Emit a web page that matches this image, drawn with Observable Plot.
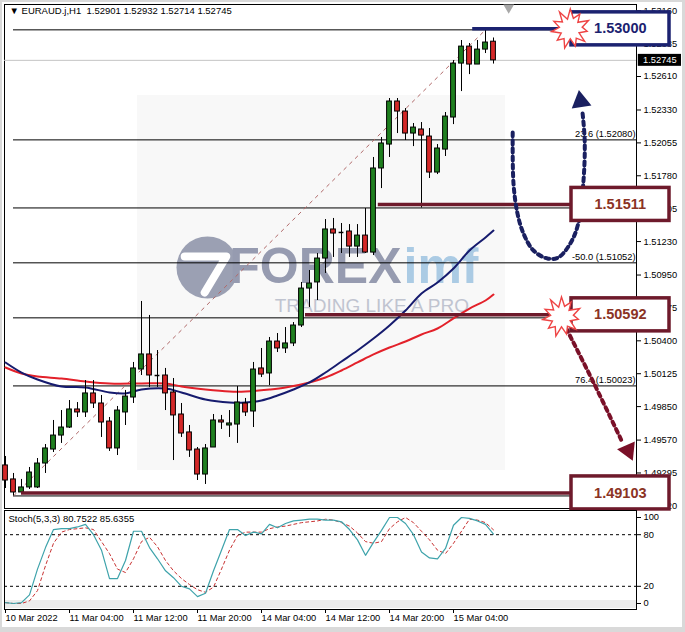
<!DOCTYPE html>
<html><head><meta charset="utf-8">
<script src="https://cdn.jsdelivr.net/npm/d3@7"></script>
<script src="https://cdn.jsdelivr.net/npm/@observablehq/plot@0.6"></script>
<style>
body{margin:0;background:#d9d9d9;}
#wrap{position:relative;width:685px;height:632px;overflow:hidden;background:#d9d9d9;}
#bg{position:absolute;left:2px;top:2px;width:680px;height:625px;background:#fff;}
#main{position:absolute;left:0;top:0;}
#stoch{position:absolute;left:0;top:509px;}
</style></head><body>
<div id="wrap"><div id="bg"></div><div id="main"></div><div id="stoch"></div></div>
<script>
// ---- Data (EURAUD H1, bars 0..61, 10 Mar 20:00 -> 15 Mar 09:00) ----
const symbolName = "EURAUD.j,H1";
const opens = [1.49358,1.49241,1.49132,1.49174,1.49174,1.49374,1.49491,1.49608,1.49675,1.49826,
1.49801,1.49960,1.49876,1.49725,1.49500,1.49801,1.49926,1.50160,1.50286,1.50110,
1.50110,1.49968,1.49784,1.49634,1.49491,1.49282,1.49508,1.49734,1.49692,1.49700,
1.49876,1.49809,1.50169,1.50127,1.50394,1.50336,1.50378,1.50528,1.50837,1.50888,
1.51088,1.51331,1.51306,1.51314,1.51188,1.51280,1.51138,1.51841,1.52041,1.52401,
1.52317,1.52133,1.52167,1.52108,1.51807,1.51999,1.52267,1.52718,1.52860,1.52710,
1.52835,1.52901];
const highs = [1.49433,1.49291,1.49241,1.49341,1.49416,1.49533,1.49734,1.49817,1.49901,1.49884,
1.50068,1.50068,1.49943,1.49759,1.49851,1.49985,1.50219,1.50729,1.50612,1.50319,
1.50169,1.50085,1.49876,1.49692,1.49508,1.49533,1.49784,1.49776,1.49817,1.50018,
1.49918,1.50219,1.50336,1.50428,1.50461,1.50511,1.50553,1.50888,1.50988,1.51130,
1.51414,1.51423,1.51381,1.51372,1.51372,1.51506,1.51933,1.52100,1.52426,1.52426,
1.52342,1.52217,1.52225,1.52175,1.52041,1.52309,1.52743,1.52911,1.52886,1.52911,
1.53000,1.52932];
const lows = [1.49165,1.49103,1.49115,1.49157,1.49165,1.49291,1.49466,1.49542,1.49667,1.49759,
1.49759,1.49834,1.49592,1.49475,1.49441,1.49692,1.49876,1.50110,1.50010,1.50010,
1.49817,1.49399,1.49592,1.49425,1.49232,1.49199,1.49508,1.49659,1.49592,1.49542,
1.49767,1.49675,1.50093,1.50026,1.50302,1.50294,1.50352,1.50511,1.50679,1.50737,
1.50963,1.51097,1.51130,1.51097,1.51097,1.51130,1.51113,1.51673,1.51933,1.52133,
1.52075,1.52024,1.51511,1.51757,1.51790,1.51941,1.52208,1.52484,1.52626,1.52710,
1.52802,1.52714];
const closes = [1.49232,1.49132,1.49174,1.49299,1.49374,1.49500,1.49608,1.49675,1.49826,1.49801,
1.49960,1.49876,1.49717,1.49500,1.49817,1.49934,1.50169,1.50286,1.50110,1.50110,
1.49960,1.49776,1.49625,1.49483,1.49282,1.49500,1.49734,1.49717,1.49709,1.49884,
1.49801,1.50160,1.50118,1.50394,1.50336,1.50378,1.50528,1.50837,1.50879,1.51088,
1.51331,1.51297,1.51306,1.51188,1.51280,1.51138,1.51841,1.52050,1.52401,1.52317,
1.52133,1.52183,1.52116,1.51807,1.52008,1.52275,1.52718,1.52860,1.52710,1.52835,
1.52894,1.52745];

// moving averages (read at selected bars)
const maBlueBars = [0,2,4,7,10,13,15,17,20,22,25,28,30,32,34,36,38,40,42,44,46,48,50,52,54,56,58,60,61];
const maBlue = [1.50219,1.50135,1.50077,1.50018,1.50010,1.49968,1.49960,1.49993,1.50001,1.49968,1.49909,1.49884,1.49884,1.49901,1.49943,1.49993,1.50052,1.50135,1.50227,1.50319,1.50419,1.50528,1.50653,1.50796,1.50888,1.51005,1.51155,1.51264,1.51322];
const maRedBars = [0,2,4,7,10,13,17,20,22,25,28,30,33,35,38,40,42,44,46,48,50,52,54,56,58,60,61];
const maRed = [1.50177,1.50127,1.50102,1.50085,1.50060,1.50043,1.50043,1.50043,1.50018,1.49993,1.49976,1.49976,1.49993,1.50010,1.50052,1.50093,1.50152,1.50219,1.50286,1.50344,1.50394,1.50453,1.50503,1.50587,1.50670,1.50737,1.50787];

// stochastic (5,3,3)
const stochMainLast = 80.7522, stochSignalLast = 85.6355;
const stochMain = [1,0,1,10,40,65,86,87,87,89, 92,80,62,29,29,50,84,84,65,52, 38,30,20,17,8,12,38,62,86,86,
79,83,81,92,88,93,96,97,98,98, 97,97,95,86,74,56,71,85,100,100, 93,80,60,53,52,64,91,100,99,96, 92,stochMainLast];
const stochSignal = [1,0,0,3,15,44,70,83,86,87, 88,86,72,58,40,36,52,72,77,66, 50,38,29,22,16,13,19,40,62,79,
83,83,83,87,89,90,92,94,95,96, 98,97,94,90,82,72,70,72,87,95, 100,94,84,74,62,58,70,84,98,97, 94,stochSignalLast];
const stochLevels = [20, 80];
const stochTicks = [0, 20, 80, 100];

// Fibonacci retracement 1.49103 (bar 1) -> 1.53000 (bar 60)
const fibPct = ["0.0","23.6","38.2","-50.0","61.8","76.4","100.0"];
const fibPrice = [1.53000,1.52080,1.51511,1.51052,1.50592,1.50023,1.49103];
const fibLabelShown = [false,true,false,true,false,true,false]; // others lie under the boxes
const fibFromBar = 1, fibToBar = 60;

// marked levels
const levelPrice = [1.53000, 1.51511, 1.50592, 1.49103];
const levelStartBar = [58.4, 46.6, 37.5, 2];
const starLevels = [1.53000, 1.50592];

// axis ticks
const priceTicks = [1.49020,1.49295,1.49570,1.49850,1.50125,1.50400,1.50675,1.50950,1.51230,1.51505,1.51780,1.52055,1.52330,1.52610,1.52885,1.53160];
const timeTickBars = [0,8,16,24,32,40,48,56];
const timeLabels = ["10 Mar 2022","11 Mar 04:00","11 Mar 12:00","11 Mar 20:00","14 Mar 04:00","14 Mar 12:00","14 Mar 20:00","15 Mar 04:00"];

// annotation paths (bar, price)
const upPathBar = [63.4,63.5,64.0,64.75,66.0,67.75,69.1,70.6,71.6,72.25,72.4,72.1];
const upPathPrice = [1.52142,1.51715,1.51464,1.51297,1.51155,1.51088,1.51097,1.51214,1.51381,1.51740,1.52075,1.52325];
const downPathBar = [70.1,73.5,77.0];
const downPathPrice = [1.50503,1.50052,1.49567];

// ---- styles ----
const GREEN = "#1f7f1f", RED = "#d42828", NAVY = "#1b2270", MAROON = "#6e1a2b", BOXTXT = "#8b3324";
const FONT = "'Liberation Sans', Arial, sans-serif";
const NARROW = "'Liberation Sans Narrow', 'Liberation Sans', sans-serif";
const xDomain = [-0.125, 78.875];
const xMax = xDomain[1];
const boxX1 = 70.75, boxX2 = 83.0, boxTextX = 76.85, boxHalf = 0.00138;
const levelDy = [-1, -3.5, -3, -3];
const levelColor = [NAVY, MAROON, MAROON, MAROON];
const levelText = [NAVY, BOXTXT, BOXTXT, BOXTXT];

const candles = opens.map((o, i) => ({i, o, h: highs[i], l: lows[i], c: closes[i]}));
const blue = maBlueBars.map((b, k) => ({b, p: maBlue[k]}));
const red = maRedBars.map((b, k) => ({b, p: maRed[k]}));
const upPath = upPathBar.map((b, k) => ({b, p: upPathPrice[k]}));
const downPath = downPathBar.map((b, k) => ({b, p: downPathPrice[k]}));
const fibLabels = fibPrice.map((p, k) => ({p, t: `${fibPct[k]} (${p.toFixed(5)})`})).filter((d, k) => fibLabelShown[k]);

const starSymbol = {
  draw(ctx, size) {
    const R = Math.sqrt(size / Math.PI);
    const radii = [1,.55,.88,.5,1,.6,.85,.48,.95,.55,.9,.5,1,.58,.86,.5,.95,.55,.9,.52,1,.5];
    const n = radii.length;
    for (let k = 0; k < n; k++) {
      const a = (k / n) * 2 * Math.PI;
      const r = R * radii[k];
      const x = r * Math.sin(a), y = -r * Math.cos(a);
      if (k) ctx.lineTo(x, y); else ctx.moveTo(x, y);
    }
    ctx.closePath();
  }
};

const lastBar = opens.length - 1;
const header = `\u25BC ${symbolName}\u00a0\u00a0${opens[lastBar].toFixed(5)} ${highs[lastBar].toFixed(5)} ${lows[lastBar].toFixed(5)} ${closes[lastBar].toFixed(5)}`;

const mainMarks = [
  // watermark
  Plot.rect([0], {x1: 16.5, x2: 62.5, y1: 1.49316, y2: 1.52451, fill: "#f8f8f8"}),
  Plot.dot([0], {x: 25.25, y: 1.51013, r: 31, fill: "#9ba0b3"}),
  Plot.line([{b:22.4,p:1.51105},{b:27.6,p:1.51105},{b:24.9,p:1.50804}], {x: "b", y: "p", stroke: "white", strokeWidth: 8}),
  Plot.text(["FOREX"], {x: 49.5, y: 1.51021, textAnchor: "end", fontSize: 50, fontWeight: "bold", fontFamily: NARROW, fill: "#969bb0"}),
  Plot.text(["imf"], {x: 49.75, y: 1.51021, textAnchor: "start", fontSize: 50, fontWeight: "bold", fontFamily: NARROW, fill: "#abcbe4"}),
  Plot.text(["TRADING LIKE A PRO"], {x: 45.8, y: 1.50695, fontSize: 19, fill: "#c0c4d0", fontFamily: FONT}),
  Plot.frame({stroke: "black"}),
  // fib levels
  Plot.ruleY(fibPrice, {x1: fibFromBar, x2: xMax, stroke: "black", strokeWidth: 1}),
  Plot.ruleY([closes[lastBar]], {stroke: "#c4c4c4"}),
  Plot.text(fibLabels, {x: xMax, y: "p", text: "t", textAnchor: "end", dx: -1, dy: -6, fontSize: 9.3, fill: "black"}),
  Plot.link([0], {x1: fibFromBar, y1: fibPrice[6], x2: fibToBar, y2: fibPrice[0], stroke: "#b06868", strokeWidth: 1, strokeDasharray: "4,4"}),
  // moving averages
  Plot.line(red, {x: "b", y: "p", stroke: "#e3212a", strokeWidth: 2, curve: "catmull-rom"}),
  Plot.line(blue, {x: "b", y: "p", stroke: "#161b6e", strokeWidth: 2, curve: "catmull-rom"}),
  // candles
  Plot.ruleX(candles, {x: "i", y1: "l", y2: "h", stroke: "black", strokeWidth: 1}),
  Plot.rect(candles.filter(d => d.o !== d.c), {x1: d => d.i - 0.3, x2: d => d.i + 0.3, y1: "o", y2: "c", fill: d => d.c > d.o ? GREEN : RED, stroke: "black", strokeWidth: 1}),
  Plot.ruleY(candles.filter(d => d.o === d.c), {y: "o", x1: d => d.i - 0.3, x2: d => d.i + 0.3, stroke: "black", strokeWidth: 1.5}),
  // level lines
  ...levelPrice.map((p, k) => Plot.ruleY([p], {x1: levelStartBar[k], x2: boxX1, stroke: levelColor[k], strokeWidth: 3.5, dy: levelDy[k]})),
  // price axis
  Plot.axisY({anchor: "right", ticks: priceTicks, tickFormat: d => d.toFixed(5), tickSize: 4, tickPadding: 3, label: null, fontSize: 9.3}),
  Plot.rect([0], {x1: 79.1, x2: 84.5, y1: closes[lastBar] - 0.0005, y2: closes[lastBar] + 0.0005, fill: "black"}),
  Plot.text([closes[lastBar]], {x: 79.7, y: d => d, text: d => d.toFixed(5), textAnchor: "start", fill: "white", fontSize: 9.3}),
  // arrows
  Plot.line(upPath, {x: "b", y: "p", curve: "catmull-rom", stroke: "#1a2060", strokeWidth: 4, strokeDasharray: "4,4"}),
  Plot.dot([0], {x: 71.9, y: 1.52403, symbol: "triangle", r: 7.4, fill: "#1a2060", rotate: -9}),
  Plot.line(downPath, {x: "b", y: "p", curve: "catmull-rom", stroke: "#7a1028", strokeWidth: 4, strokeDasharray: "4,4"}),
  Plot.dot([0], {x: 77.84, y: 1.49483, symbol: "triangle", r: 7.2, fill: "#7a1028", rotate: 156}),
  // boxes
  ...levelPrice.map((p, k) => Plot.rect([p], {x1: boxX1, x2: boxX2, y1: d => d - boxHalf, y2: d => d + boxHalf, fill: "white", stroke: levelColor[k], strokeWidth: 3.5, dy: levelDy[k]})),
  Plot.dot(starLevels, {x: (d, k) => k === 0 ? 70.6 : 69.5, y: d => d, symbol: starSymbol, r: 20, fill: "white", stroke: "#ee4444", strokeWidth: 1.4, dy: -1}),
  ...levelPrice.map((p, k) => Plot.text([p], {x: boxTextX, y: d => d, text: d => d.toFixed(5), fontSize: 14.5, fontWeight: "bold", fill: levelText[k], dy: levelDy[k]})),
  // header + shift marker
  Plot.text([header], {frameAnchor: "top-left", textAnchor: "start", lineAnchor: "top", dx: 5, dy: 3, fontSize: 9.5, fill: "black"}),
  Plot.dot([0], {x: 62.9, y: 1.53186, symbol: "triangle", r: 4, fill: "#a8a8a8", rotate: 180})
];

const mainPlot = Plot.plot({
  width: 685, height: 509,
  marginLeft: 4, marginRight: 49, marginTop: 4, marginBottom: 1,
  x: {domain: xDomain, axis: null},
  y: {domain: [1.48998, 1.53212], axis: null},
  style: {fontFamily: FONT, fontSize: "9.3px", background: "transparent", overflow: "visible", color: "black"},
  marks: mainMarks
});
document.getElementById("main").appendChild(mainPlot);

const sMain = stochMain.map((v, i) => ({i, v}));
const sSig = stochSignal.map((v, i) => ({i, v}));
const stochPlot = Plot.plot({
  width: 685, height: 123,
  marginLeft: 4, marginRight: 49, marginTop: 1, marginBottom: 23,
  x: {domain: xDomain},
  y: {domain: [-6.98, 108.14]},
  style: {fontFamily: FONT, fontSize: "9.3px", background: "transparent", overflow: "visible", color: "black"},
  marks: [
    Plot.rect([0], {x1: xDomain[0], x2: xMax, y1: -5.8, y2: 3.5, fill: "#ececec"}),
    Plot.frame({stroke: "black"}),
    Plot.ruleY(stochLevels, {stroke: "black", strokeDasharray: "3,3"}),
    Plot.line(sSig, {x: "i", y: "v", stroke: "#c83232", strokeWidth: 1, strokeDasharray: "3,3"}),
    Plot.line(sMain, {x: "i", y: "v", stroke: "#3ea3ab", strokeWidth: 1.2}),
    Plot.axisY({anchor: "right", ticks: stochTicks, tickSize: 4, tickPadding: 3, label: null, fontSize: 9.3}),
    Plot.axisX({anchor: "bottom", ticks: timeTickBars, tickFormat: d => timeLabels[timeTickBars.indexOf(d)], textAnchor: "start", tickSize: 4, tickPadding: 1, label: null, fontSize: 9.3}),
    Plot.text([`Stoch(5,3,3) ${stochMainLast.toFixed(4)} ${stochSignalLast.toFixed(4)}`], {frameAnchor: "top-left", textAnchor: "start", lineAnchor: "top", dx: 4, dy: 5, fontSize: 9.5, fill: "black"})
  ]
});
document.getElementById("stoch").appendChild(stochPlot);
</script>
</body></html>
